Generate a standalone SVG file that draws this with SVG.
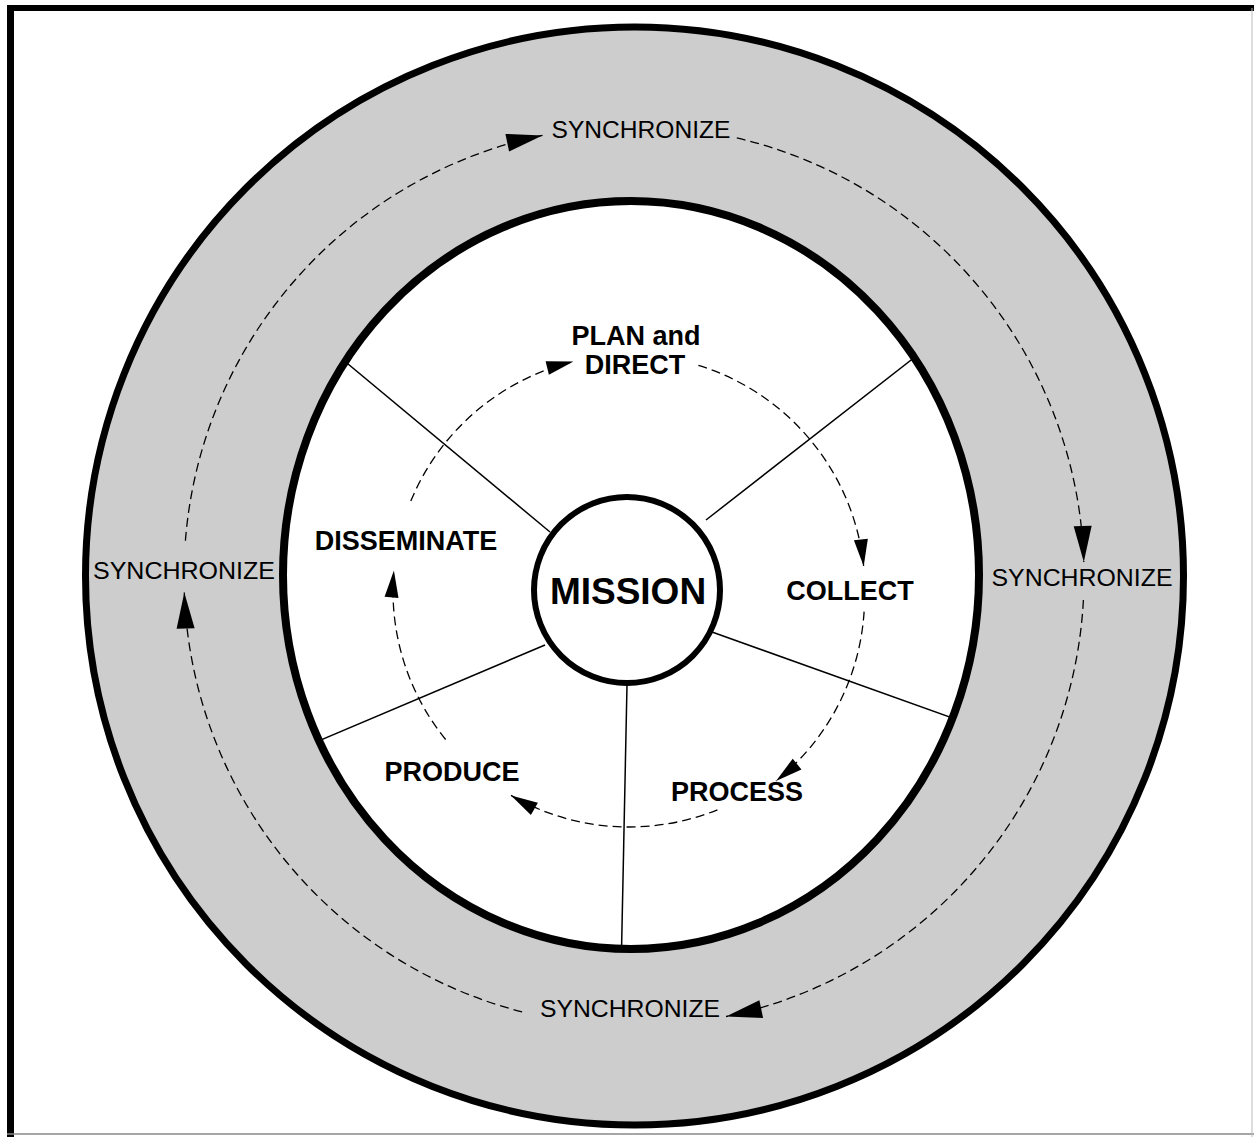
<svg xmlns="http://www.w3.org/2000/svg" width="1254" height="1137" viewBox="0 0 1254 1137">
<style>
.ring{fill:#cdcdcd;stroke:#000;stroke-width:7}
.disc{fill:#fff;stroke:#000;stroke-width:8}
.div{stroke:#000;stroke-width:1.5;fill:none}
.sync{font-family:"Liberation Sans",Arial,sans-serif;font-size:24px;fill:#000;text-anchor:middle}
.lbl{font-family:"Liberation Sans",Arial,sans-serif;font-size:27px;font-weight:bold;fill:#000;text-anchor:middle}
.dash{fill:none;stroke:#000;stroke-width:1.3;stroke-dasharray:9 5}
</style>
<defs>
<marker id="ah" markerUnits="userSpaceOnUse" markerWidth="40" markerHeight="30" viewBox="-40 -15 40 30" refX="0" refY="0" orient="auto">
<path d="M0,0 L-36,-9 L-36,9 Z" fill="#000"/>
</marker>
<marker id="ai" markerUnits="userSpaceOnUse" markerWidth="32" markerHeight="24" viewBox="-32 -12 32 24" refX="0" refY="0" orient="auto">
<path d="M0,0 L-27,-7 L-27,7 Z" fill="#000"/>
</marker>
<clipPath id="inside"><ellipse cx="631" cy="575" rx="348" ry="374"/></clipPath>
</defs>
<rect width="1254" height="1137" fill="#fff"/>
<g id="frame">
<line x1="7" y1="8" x2="1254" y2="8" stroke="#000" stroke-width="6"/>
<line x1="10.5" y1="5" x2="10.5" y2="1137" stroke="#000" stroke-width="7"/>
<line x1="7" y1="1134" x2="1254" y2="1134" stroke="#888" stroke-width="1.5"/>
<line x1="1252" y1="8" x2="1252" y2="1137" stroke="#bbb" stroke-width="1"/>
</g>
<g id="outer-ring"><circle class="ring" cx="634.5" cy="576" r="549"/></g>
<g id="middle-disc"><ellipse cx="631" cy="575" rx="348" ry="374" fill="#fff"/></g>
<g id="dividers" clip-path="url(#inside)">
<line class="div" x1="550" y1="532" x2="300" y2="324"/>
<line class="div" x1="706" y1="520" x2="965" y2="318"/>
<line class="div" x1="545" y1="645" x2="250" y2="770"/>
<line class="div" x1="712" y1="632" x2="1000" y2="735"/>
<line class="div" x1="627" y1="685" x2="620.5" y2="1000"/>
</g>
<g id="middle-ring"><ellipse cx="631" cy="575" rx="348" ry="374" fill="none" stroke="#000" stroke-width="8"/></g>
<g id="mission"><circle cx="627" cy="590" r="93" fill="#fff" stroke="#000" stroke-width="6"/>
<text class="lbl" x="628" y="604" style="font-size:37px">MISSION</text></g>
<g id="connectors">
<path class="dash" marker-end="url(#ah)" d="M185.4,540.7 A450,450 0 0 1 542.5,135.4"/>
<path class="dash" marker-end="url(#ah)" d="M736.8,137.9 A450,450 0 0 1 1083.8,561.9"/>
<path class="dash" marker-end="url(#ah)" d="M1083.4,600 A450,450 0 0 1 726,1016.5"/>
<path class="dash" marker-end="url(#ah)" d="M522.1,1011.9 A450,450 0 0 1 184.3,592.5"/>
<path class="dash" marker-end="url(#ai)" d="M410.8,501.1 A236,236 0 0 1 573.5,361.6"/>
<path class="dash" marker-end="url(#ai)" d="M698.4,365.4 A236,236 0 0 1 863.7,566.3"/>
<path class="dash" marker-end="url(#ai)" d="M864.1,611.6 A236,236 0 0 1 776,781"/>
<path class="dash" marker-end="url(#ai)" d="M717.4,809.8 A236,236 0 0 1 511,795.4"/>
<path class="dash" marker-end="url(#ai)" d="M445.6,739.5 A236,236 0 0 1 393.9,570.4"/>
</g>
<g id="sync-top"><text class="sync" x="641" y="138" textLength="179" lengthAdjust="spacingAndGlyphs">SYNCHRONIZE</text></g>
<g id="sync-right"><text class="sync" x="1082" y="586" textLength="181" lengthAdjust="spacingAndGlyphs">SYNCHRONIZE</text></g>
<g id="sync-bottom"><text class="sync" x="630" y="1017" textLength="180" lengthAdjust="spacingAndGlyphs">SYNCHRONIZE</text></g>
<g id="sync-left"><text class="sync" x="184" y="579" textLength="182" lengthAdjust="spacingAndGlyphs">SYNCHRONIZE</text></g>
<g id="plan"><text class="lbl" x="636" y="345">PLAN and</text><text class="lbl" x="635" y="374">DIRECT</text></g>
<g id="collect"><text class="lbl" x="850" y="600">COLLECT</text></g>
<g id="process"><text class="lbl" x="737" y="801">PROCESS</text></g>
<g id="produce"><text class="lbl" x="452" y="781">PRODUCE</text></g>
<g id="disseminate"><text class="lbl" x="406" y="550">DISSEMINATE</text></g>
</svg>
